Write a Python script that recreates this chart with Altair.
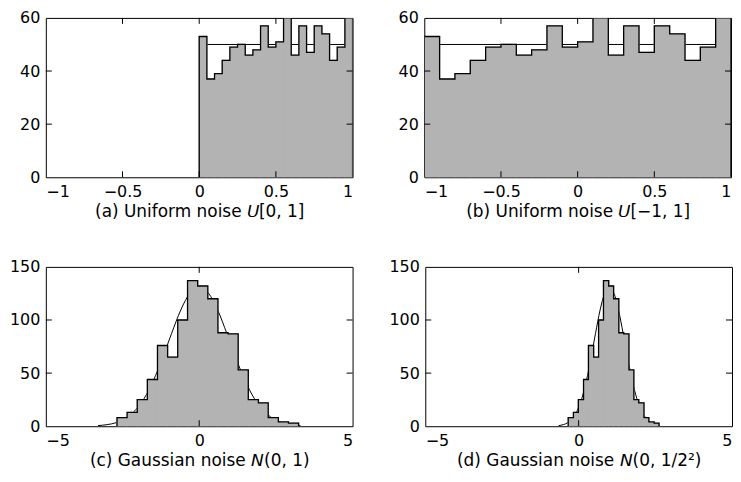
import altair as alt
import pandas as pd

FONT = "DejaVu Sans"
GRAY = "#b3b3b3"
LFS = 16
TFS = 17

# ---------------- data ----------------
a_edges = [0.0, 0.05, 0.1, 0.15, 0.2, 0.25, 0.3, 0.35, 0.4, 0.45, 0.5,
           0.55, 0.6, 0.65, 0.7, 0.75, 0.8, 0.85, 0.9, 0.95, 1.0]
b_edges = [-1.0, -0.9, -0.8, -0.7, -0.6, -0.5, -0.4, -0.3, -0.2, -0.1, 0.0,
           0.1, 0.2, 0.3, 0.4, 0.5, 0.6, 0.7, 0.8, 0.9, 1.0]
u_counts = [53, 37, 39, 44, 49, 50, 46, 48, 57, 49, 51, 60, 46, 57, 47, 57, 54, 44, 49, 60]
a_ref_x = [0.0, 1.0]
b_ref_x = [-1.0, 1.0]
u_ref_y = [50, 50]

c_edges = [-2.68, -2.35, -2.02, -1.69, -1.36, -1.03, -0.70, -0.38, -0.05, 0.28,
           0.61, 0.94, 1.27, 1.60, 1.93, 2.25, 2.58, 2.91, 3.24]
d_edges = [-0.34, -0.17, -0.01, 0.16, 0.32, 0.49, 0.65, 0.81, 0.98, 1.14,
           1.31, 1.47, 1.64, 1.80, 1.96, 2.13, 2.29, 2.46, 2.62]
g_counts = [8, 13, 25, 44, 76, 65, 100, 137, 132, 120, 88, 87, 53, 25, 22, 8, 4, 3]

c_curve_x = [-3.3, -3.0, -2.7, -2.4, -2.1, -1.8, -1.5, -1.2, -0.9, -0.6, -0.3, 0.0,
             0.3, 0.6, 0.9, 1.2, 1.5, 1.8, 2.1, 2.4, 2.7, 3.0, 3.3]
d_curve_x = [-0.65, -0.5, -0.35, -0.2, -0.05, 0.1, 0.25, 0.4, 0.55, 0.7, 0.85, 1.0,
             1.15, 1.3, 1.45, 1.6, 1.75, 1.9, 2.05, 2.2, 2.35, 2.5, 2.65]
g_curve_y = [0.6, 1.5, 3.4, 7.4, 14.5, 25.9, 42.6, 63.8, 87.4, 109.5, 125.3, 131.1,
             125.3, 109.5, 87.4, 63.8, 42.6, 25.9, 14.5, 7.4, 3.4, 1.5, 0.6]

cap_a = "(a) Uniform noise \U0001D61C[0, 1]"
cap_b = "(b) Uniform noise \U0001D61C[\u22121, 1]"
cap_c = "(c) Gaussian noise \U0001D615(0, 1)"
cap_d = "(d) Gaussian noise \U0001D615(0, 1/2\u00b2)"

W, H = 308, 160
TICK = 6


def panel(edges, counts, xdom, xticks, ydom, yticks, caption, ref_x, ref_y, ref_interp):
    xs = alt.Scale(domain=xdom, nice=False, zero=False)
    ys = alt.Scale(domain=ydom, nice=False, zero=False)
    xax = alt.Axis(values=xticks, format="~g", title=caption, labelPadding=6,
                   titlePadding=4)
    yax = alt.Axis(values=yticks, format="d", title=None, labelPadding=6,
                   minExtent=36, maxExtent=36)

    bars_df = pd.DataFrame({"x0": edges[:-1], "x1": edges[1:], "n": counts})
    sx = [edges[0]] + list(edges[:-1]) + [edges[-1], edges[-1]]
    sy = [0] + list(counts) + [counts[-1], 0]
    stairs_df = pd.DataFrame({"x": sx, "y": sy, "i": list(range(len(sx)))})
    ref_df = pd.DataFrame({"x": ref_x, "y": ref_y})

    X = lambda f: alt.X(f, scale=xs, axis=xax)
    Y = lambda f: alt.Y(f, scale=ys, axis=yax)

    ref = alt.Chart(ref_df).mark_line(color="black", strokeWidth=1,
                                      interpolate=ref_interp, clip=True).encode(
        x=X("x:Q"), y=Y("y:Q"),
    )
    fill = alt.Chart(bars_df).mark_rect(color=GRAY, stroke=GRAY, strokeWidth=1.2,
                                        clip=True).encode(
        x=X("x0:Q"), x2="x1:Q",
        y=Y("n:Q"), y2=alt.datum(0),
    )
    stairs = alt.Chart(stairs_df).mark_line(color="black", strokeWidth=1.3,
                                            interpolate="step-after",
                                            clip=True).encode(
        x=X("x:Q"), y=Y("y:Q"), order="i:Q",
    )
    xt_df = pd.DataFrame({"v": xticks[1:-1]})
    yt_df = pd.DataFrame({"v": yticks[1:-1]})
    tb = alt.Chart(xt_df).mark_rule(color="black", strokeWidth=1).encode(
        x=X("v:Q"), y=alt.value(H - TICK), y2=alt.value(H))
    tt = alt.Chart(xt_df).mark_rule(color="black", strokeWidth=1).encode(
        x=X("v:Q"), y=alt.value(0), y2=alt.value(TICK))
    tl = alt.Chart(yt_df).mark_rule(color="black", strokeWidth=1).encode(
        y=Y("v:Q"), x=alt.value(0), x2=alt.value(TICK))
    tr = alt.Chart(yt_df).mark_rule(color="black", strokeWidth=1).encode(
        y=Y("v:Q"), x=alt.value(W - TICK), x2=alt.value(W))
    return alt.layer(ref, fill, stairs, tb, tt, tl, tr).properties(width=W, height=H)


pa = panel(a_edges, u_counts, [-1, 1], [-1, -0.5, 0, 0.5, 1], [0, 60], [0, 20, 40, 60],
           cap_a, a_ref_x, u_ref_y, "linear")
pb = panel(b_edges, u_counts, [-1, 1], [-1, -0.5, 0, 0.5, 1], [0, 60], [0, 20, 40, 60],
           cap_b, b_ref_x, u_ref_y, "linear")
pc = panel(c_edges, g_counts, [-5, 5], [-5, 0, 5], [0, 150], [0, 50, 100, 150],
           cap_c, c_curve_x, g_curve_y, "monotone")
pd_ = panel(d_edges, g_counts, [-5, 5], [-5, 0, 5], [0, 150], [0, 50, 100, 150],
            cap_d, d_curve_x, g_curve_y, "monotone")

chart = alt.vconcat(
    alt.hconcat(pa, pb, spacing=34),
    alt.hconcat(pc, pd_, spacing=34),
    spacing=38,
).properties(padding=0).configure(
    font=FONT,
).configure_axis(
    labelFont=FONT, labelFontSize=LFS, labelColor="black",
    titleFont=FONT, titleFontSize=TFS, titleFontWeight="normal", titleColor="black",
    domain=False, ticks=False, tickSize=0, grid=False,
).configure_view(
    stroke="black", strokeWidth=1,
)

chart.save("out.html", embed_options={"renderer": "svg", "actions": False})
